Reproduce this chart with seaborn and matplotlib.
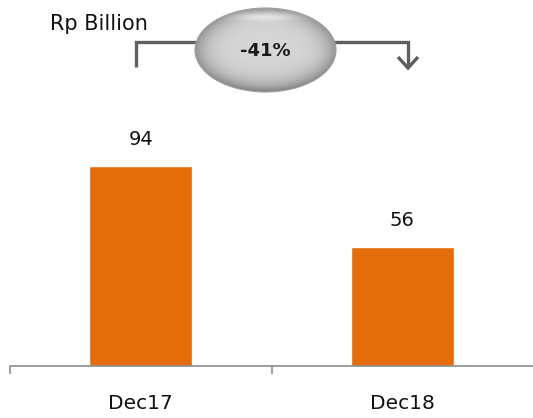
import numpy as np
import pandas as pd
import matplotlib
matplotlib.use("Agg")
import matplotlib.pyplot as plt
from matplotlib.patches import Ellipse
import seaborn as sns

# Data
periods = ["Dec17", "Dec18"]
values = [94, 56]
change_label = "-41%"
unit_label = "Rp Billion"

BAR_COLOR = "#E46C0A"
AXIS_COLOR = "#8C8C8C"
BRACKET_COLOR = "#5F5F5F"

sns.set_theme(style="white")
plt.rcParams["font.family"] = ["DejaVu Sans"]

W, H = 533, 418
fig = plt.figure(figsize=(W / 100, H / 100), dpi=100)

# Main bar axes (pixel layout: baseline at y=366, x from 10 to right edge)
ax = fig.add_axes([10 / W, 1 - 366 / H, 1 - 10 / W, 266 / H])
df = pd.DataFrame({"period": periods, "value": values})
sns.barplot(data=df, x="period", y="value", color=BAR_COLOR, saturation=1,
            width=0.395, ax=ax)
ax.set_xlim(-0.5, 1.5)
ax.set_ylim(0, 125)

for i, v in enumerate(values):
    ax.annotate(f"{v}", xy=(i, v), xytext=(0, 12), textcoords="offset points",
                ha="center", va="bottom", fontsize=14, color="#111111")

for side in ["top", "right", "left"]:
    ax.spines[side].set_visible(False)
ax.spines["bottom"].set_color(AXIS_COLOR)
ax.spines["bottom"].set_linewidth(1.2)
ax.set_yticks([])
ax.set_xlabel("")
ax.set_ylabel("")

# Category boundary ticks below the axis line, labels centered under bars
ax.set_xticks([0, 1])
ax.set_xticklabels(periods, fontsize=14.5, color="#111111")
ax.tick_params(axis="x", which="major", length=0, pad=20)
ax.set_xticks([-0.5, 0.5], minor=True)
ax.tick_params(axis="x", which="minor", direction="out", length=6,
               width=1.2, color=AXIS_COLOR, bottom=True)

# Overlay in pixel coordinates for the header annotation
ov = fig.add_axes([0, 0, 1, 1], zorder=5)
ov.set_xlim(0, W)
ov.set_ylim(H, 0)
ov.axis("off")
ov.patch.set_alpha(0)

ov.text(50, 24, unit_label, fontsize=15, ha="left", va="center", color="#111111")

# Bracket line with downward arrow
lw = 2.4
ov.plot([136, 136, 408, 408], [67, 41.5, 41.5, 68], color=BRACKET_COLOR,
        lw=lw, solid_joinstyle="miter", solid_capstyle="butt")
ov.plot([398, 408, 418], [57, 68, 57], color=BRACKET_COLOR, lw=lw,
        solid_joinstyle="miter", solid_capstyle="butt")

# Shaded oval badge
cx, cy, ew, eh = 265.5, 50, 141, 84
gx = np.linspace(-1, 1, 300)
gy = np.linspace(-1, 1, 200)
X, Y = np.meshgrid(gx, gy)
R = np.sqrt(X ** 2 + Y ** 2)
shade = 0.84 - 0.26 * np.clip(R, 0, 1) ** 5 - 0.08 * np.clip(Y, 0, 1) ** 2
gloss = np.exp(-((Y + 0.8) / 0.1) ** 2) * np.exp(-(X / 0.5) ** 2) * 0.14
shade = np.clip(shade + gloss, 0, 1)
img = np.dstack([shade, shade, shade])
im = ov.imshow(img, extent=[cx - ew / 2, cx + ew / 2, cy + eh / 2, cy - eh / 2],
               origin="upper", zorder=6, interpolation="bilinear")
clip = Ellipse((cx, cy), ew, eh, transform=ov.transData, facecolor="none",
               edgecolor="none")
ov.add_patch(clip)
im.set_clip_path(clip)
ov.add_patch(Ellipse((cx, cy), ew, eh, facecolor="none", edgecolor="#A0A0A0",
                     lw=0.8, zorder=7))
ov.set_xlim(0, W)
ov.set_ylim(H, 0)
ov.text(cx, cy + 1, change_label, fontsize=13, fontweight="bold",
        ha="center", va="center", color="#1A1A1A", zorder=8)

fig.savefig("out.png", dpi=100)
